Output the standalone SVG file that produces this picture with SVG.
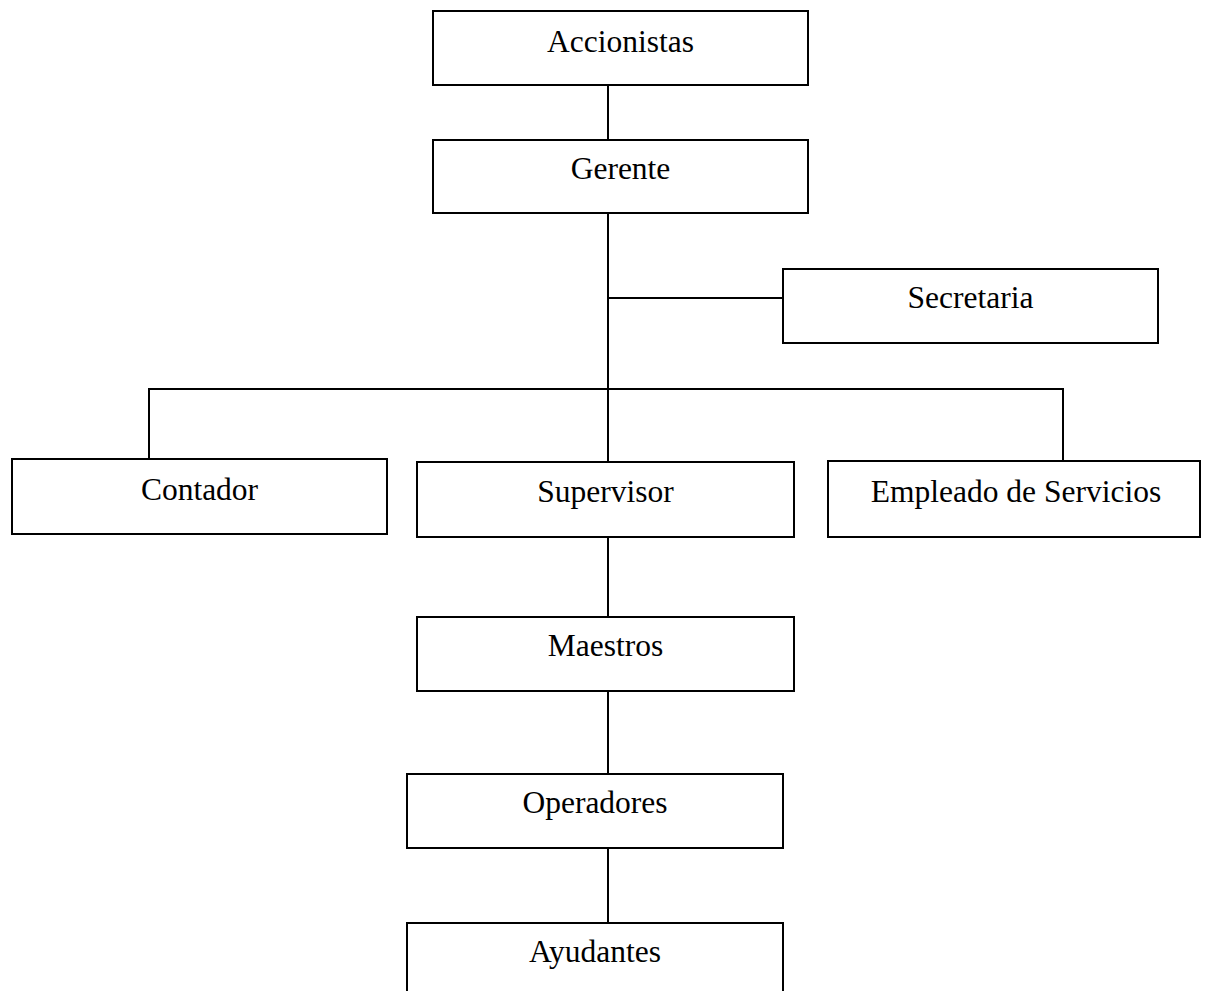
<svg xmlns="http://www.w3.org/2000/svg" width="1205" height="991" viewBox="0 0 1205 991">
<style>
.box{fill:#fff;stroke:#000;stroke-width:2}
.lbl{font-family:"Liberation Serif","Times New Roman",serif;font-size:31.5px;fill:#000;text-anchor:middle}
.con{fill:none;stroke:#000;stroke-width:2}
</style>
<rect width="1205" height="991" fill="#fff"/>
<g id="connectors">
<line class="con" x1="608" y1="85" x2="608" y2="140"/>
<line class="con" x1="608" y1="213" x2="608" y2="462"/>
<line class="con" x1="608" y1="298" x2="783" y2="298"/>
<polyline class="con" points="149,459 149,389 1063,389 1063,461"/>
<line class="con" x1="608" y1="537" x2="608" y2="617"/>
<line class="con" x1="608" y1="691" x2="608" y2="774"/>
<line class="con" x1="608" y1="848" x2="608" y2="923"/>
</g>
<g id="accionistas"><rect class="box" x="433" y="11" width="375" height="74"/><text class="lbl" x="620.5" y="52">Accionistas</text></g>
<g id="gerente"><rect class="box" x="433" y="140" width="375" height="73"/><text class="lbl" x="620.5" y="179">Gerente</text></g>
<g id="secretaria"><rect class="box" x="783" y="269" width="375" height="74"/><text class="lbl" x="970.5" y="308">Secretaria</text></g>
<g id="contador"><rect class="box" x="12" y="459" width="375" height="75"/><text class="lbl" x="199.5" y="500">Contador</text></g>
<g id="supervisor"><rect class="box" x="417" y="462" width="377" height="75"/><text class="lbl" x="605.5" y="502">Supervisor</text></g>
<g id="empleado"><rect class="box" x="828" y="461" width="372" height="76"/><text class="lbl" x="1016" y="502">Empleado de Servicios</text></g>
<g id="maestros"><rect class="box" x="417" y="617" width="377" height="74"/><text class="lbl" x="605.5" y="656">Maestros</text></g>
<g id="operadores"><rect class="box" x="407" y="774" width="376" height="74"/><text class="lbl" x="595" y="813">Operadores</text></g>
<g id="ayudantes"><rect class="box" x="407" y="923" width="376" height="80"/><text class="lbl" x="595" y="962">Ayudantes</text></g>
</svg>
